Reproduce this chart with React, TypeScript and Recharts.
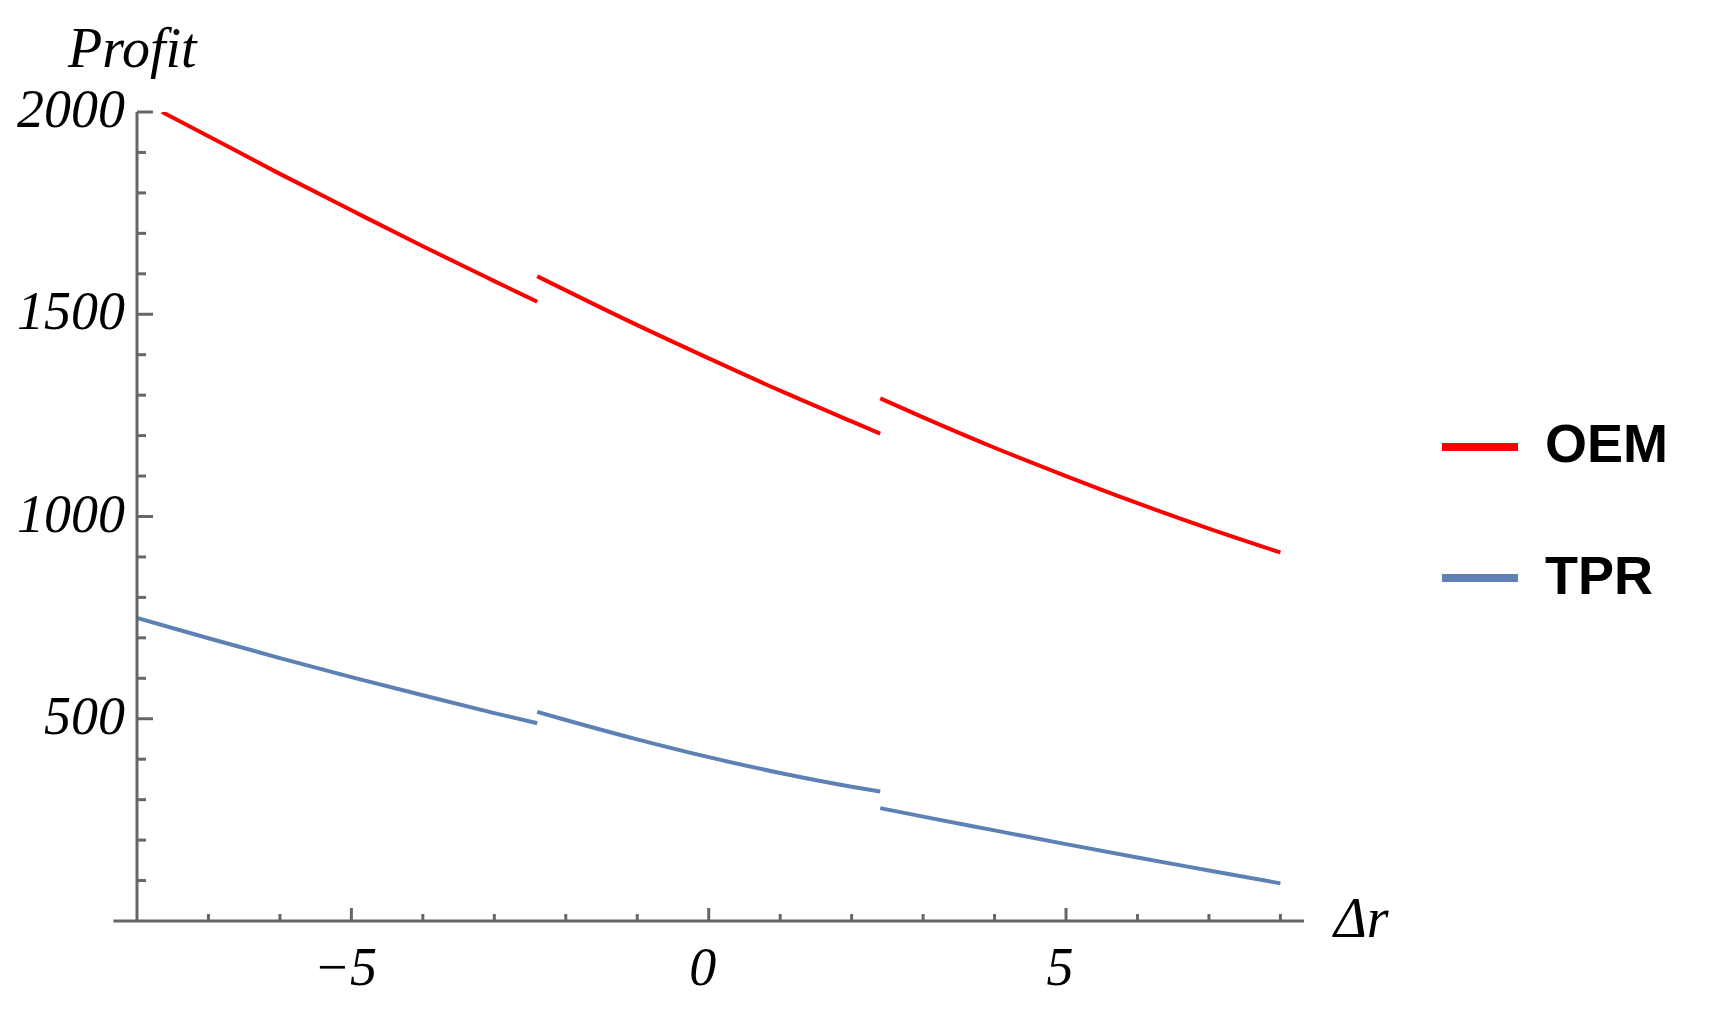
import React from 'react';
import { LineChart, Line, XAxis, YAxis, ReferenceLine } from 'recharts';

// OEM profit, three branches (jumps near Δr = ±2.4)
const oemX1 = [-7.65, -7, -6, -5, -4, -3, -2.4];
const oemY1 = [2000, 1940, 1847, 1757, 1668, 1582, 1531];
const oemX2 = [-2.4, -2, -1, 0, 1, 2, 2.4];
const oemY2 = [1594, 1559, 1473, 1391, 1311, 1235, 1205];
const oemX3 = [2.4, 3, 4, 5, 6, 7, 8];
const oemY3 = [1292, 1245, 1170, 1100, 1033, 970, 911];

// TPR profit
const tprX1 = [-8, -7, -6, -5, -4, -3, -2.4];
const tprY1 = [749, 699, 650, 603, 558, 514, 489];
const tprX2 = [-2.4, -2, -1, 0, 1, 2, 2.4];
const tprY2 = [517, 497, 449, 405, 366, 332, 320];
const tprX3 = [2.4, 3, 4, 5, 6, 7, 8];
const tprY3 = [279, 258, 224, 190, 157, 125, 93];

const xTicks = [-7, -6, -5, -4, -3, -2, -1, 0, 1, 2, 3, 4, 5, 6, 7, 8];
const yTicks = [100, 200, 300, 400, 500, 600, 700, 800, 900, 1000, 1100, 1200, 1300, 1400, 1500, 1600, 1700, 1800, 1900, 2000];

const OEM_COLOR = '#ff0000';
const TPR_COLOR = '#5e81b5';
const AXIS_COLOR = '#666666';
const SERIF = '"Liberation Serif", "Times New Roman", serif';
const SANS = '"Liberation Sans", Arial, sans-serif';

const zip = (xs: number[], ys: number[]) => xs.map((x, i) => ({ x, y: ys[i] }));

const XTick = (props: any) => {
  const { x, y, payload } = props;
  const v = payload.value as number;
  const major = v % 5 === 0;
  return (
    <g>
      <line x1={x} x2={x} y1={y} y2={y - (major ? 13 : 7)} stroke={AXIS_COLOR} strokeWidth={3} />
      {major && (
        <text x={x - 6} y={y + 64} textAnchor="middle" fontFamily={SERIF} fontStyle="italic" fontSize={54} fill="#000">
          {v < 0 ? `\u2212${-v}` : String(v)}
        </text>
      )}
    </g>
  );
};

const YTick = (props: any) => {
  const { x, y, payload } = props;
  const v = payload.value as number;
  const major = v % 500 === 0;
  return (
    <g>
      <line x1={x} x2={x + (major ? 16 : 9)} y1={y} y2={y} stroke={AXIS_COLOR} strokeWidth={3} />
      {major && (
        <text x={x - 12} y={y + 15} textAnchor="end" fontFamily={SERIF} fontStyle="italic" fontSize={54} fill="#000">
          {v}
        </text>
      )}
    </g>
  );
};

const legendItems = [
  { name: 'OEM', color: OEM_COLOR },
  { name: 'TPR', color: TPR_COLOR },
];

const segments = [
  { key: 'oem1', data: zip(oemX1, oemY1), color: OEM_COLOR },
  { key: 'oem2', data: zip(oemX2, oemY2), color: OEM_COLOR },
  { key: 'oem3', data: zip(oemX3, oemY3), color: OEM_COLOR },
  { key: 'tpr1', data: zip(tprX1, tprY1), color: TPR_COLOR },
  { key: 'tpr2', data: zip(tprX2, tprY2), color: TPR_COLOR },
  { key: 'tpr3', data: zip(tprX3, tprY3), color: TPR_COLOR },
];

const App: React.FC = () => {
  return (
    <div style={{ position: 'absolute', left: 0, top: 0, width: 1712, height: 1020, background: '#fff' }}>
      <LineChart width={1712} height={1020} margin={{ top: 112, right: 408, bottom: 39, left: 0 }}>
        <XAxis
          type="number"
          dataKey="x"
          domain={[-8, 8.33]}
          ticks={xTicks}
          tick={<XTick />}
          tickLine={false}
          tickSize={0}
          tickMargin={0}
          height={60}
          interval={0}
          allowDataOverflow
          axisLine={{ stroke: AXIS_COLOR, strokeWidth: 3 }}
        />
        <YAxis
          type="number"
          dataKey="y"
          domain={[0, 2000]}
          ticks={yTicks}
          tick={<YTick />}
          tickLine={false}
          tickSize={0}
          tickMargin={0}
          width={137}
          interval={0}
          allowDataOverflow
          axisLine={{ stroke: AXIS_COLOR, strokeWidth: 3 }}
        />
        <ReferenceLine
          segment={[{ x: -8.33, y: 0 }, { x: -8, y: 0 }]}
          stroke={AXIS_COLOR}
          strokeWidth={3}
          ifOverflow="visible"
        />
        {segments.map((s) => (
          <Line
            key={s.key}
            data={s.data}
            dataKey="y"
            type="monotone"
            stroke={s.color}
            strokeWidth={4}
            dot={false}
            activeDot={false}
            legendType="none"
            isAnimationActive={false}
          />
        ))}
      </LineChart>
      <div style={{ position: 'absolute', left: 1442, top: 400, width: 260, height: 220 }}>
        {legendItems.map((item, i) => (
          <React.Fragment key={item.name}>
            <div
              style={{
                position: 'absolute',
                left: 0,
                top: 43 + i * 131,
                width: 76,
                height: 8,
                background: item.color,
              }}
            />
            <div
              style={{
                position: 'absolute',
                left: 103,
                top: 16 + i * 132,
                fontFamily: SANS,
                fontSize: 54,
                fontWeight: 'bold',
                lineHeight: '54px',
                color: '#000',
                whiteSpace: 'nowrap',
              }}
            >
              {item.name}
            </div>
          </React.Fragment>
        ))}
      </div>
      <svg
        width={1712}
        height={1020}
        style={{ position: 'absolute', left: 0, top: 0, pointerEvents: 'none' }}
      >
        <text x={68} y={67} fontFamily={SERIF} fontStyle="italic" fontSize={56} fill="#000">
          Profit
        </text>
        <text x={1334} y={937} fontFamily={SERIF} fontStyle="italic" fontSize={56} fill="#000">
          Δr
        </text>
      </svg>
    </div>
  );
};

export default App;
